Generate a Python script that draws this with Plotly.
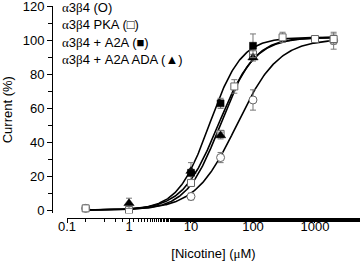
import numpy as np
import plotly.graph_objects as go

# ---- data ----
wt_x = [0.2, 10, 30, 100, 2000]
wt_y = [1, 8, 31, 65, 100]
wt_e = [1, 2, 3, 6, 5]

pka_x = [0.2, 1, 10, 30, 50, 100, 300, 1000, 2000]
pka_y = [1, 0, 16, 45, 73, 92, 102, 101, 101]
pka_e = [1, 1, 2, 2, 4, 3, 3, 2, 3]

a2a_x = [10, 30, 100]
a2a_y = [22, 63, 97]
a2a_e = [2, 3, 7]

ada_x = [1, 10, 30, 100]
ada_y = [4, 23, 44, 90]
ada_e = [3, 5, 2, 2]

# Hill fit parameters: EC50 (uM), Hill slope, Imax (%)
fit_names = ["α3β4", "PKA", "A2A", "ADA"]
fit_ec50 = [55, 30, 20, 28]
fit_nh = [1.3, 1.6, 1.7, 1.5]
fit_imax = [101, 102, 102, 102]

x_ticks = [0.1, 1, 10, 100, 1000]
x_ticklabels = ["0.1", "1", "10", "100", "1000"]
y_ticks = [0, 20, 40, 60, 80, 100, 120]

GR = "<span style='font-family:Liberation Serif'>%s</span>"
legend_lines = [
    GR % "α" + "3" + GR % "β" + "4 (O)",
    GR % "α" + "3" + GR % "β" + "4 PKA (□)",
    GR % "α" + "3" + GR % "β" + "4 + A2A (■)",
    GR % "α" + "3" + GR % "β" + "4 + A2A ADA (▲)",
]

fig = go.Figure()

xs = np.logspace(np.log10(0.2), np.log10(2000), 300)
for ec, nh, im in zip(fit_ec50, fit_nh, fit_imax):
    ys = im * xs ** nh / (xs ** nh + ec ** nh)
    fig.add_trace(go.Scatter(x=xs, y=ys, mode="lines",
                             line=dict(color="black", width=1.6),
                             hoverinfo="skip"))

err_style = dict(type="data", thickness=1, width=3, color="#777")

fig.add_trace(go.Scatter(x=wt_x, y=wt_y, mode="markers",
                         error_y=dict(array=wt_e, **err_style),
                         marker=dict(symbol="circle", size=8, color="white",
                                     line=dict(color="#666", width=1))))
fig.add_trace(go.Scatter(x=pka_x, y=pka_y, mode="markers",
                         error_y=dict(array=pka_e, **err_style),
                         marker=dict(symbol="square", size=7, color="white",
                                     line=dict(color="#666", width=1))))
fig.add_trace(go.Scatter(x=ada_x, y=ada_y, mode="markers",
                         error_y=dict(array=ada_e, **err_style),
                         marker=dict(symbol="triangle-up", size=9, color="black",
                                     line=dict(color="black", width=0.5))))
fig.add_trace(go.Scatter(x=a2a_x, y=a2a_y, mode="markers",
                         error_y=dict(array=a2a_e, **err_style),
                         marker=dict(symbol="square", size=7, color="black",
                                     line=dict(color="black", width=0.5))))

W, H = 360, 262
ml, mr, mt, mb = 52, 0, 6, 44
pw, ph = W - ml - mr, H - mt - mb

for i, t in enumerate(legend_lines):
    px, py = 60, 7 + 17.6 * i
    fig.add_annotation(x=(px - ml) / pw, y=1 - (py - mt) / ph,
                       xref="paper", yref="paper",
                       text=t, showarrow=False, xanchor="left", yanchor="middle",
                       font=dict(size=13, color="black"))

fig.update_layout(
    width=W, height=H,
    margin=dict(l=ml, r=mr, t=mt, b=mb, autoexpand=False),
    paper_bgcolor="white", plot_bgcolor="white",
    showlegend=False,
    font=dict(family="Liberation Sans, Arial, sans-serif", size=13, color="black"),
    xaxis=dict(type="log", range=[-1, 3.726], domain=[15 / pw, 1],
               anchor="free", position=0, automargin=False,
               tickvals=x_ticks, ticktext=x_ticklabels,
               ticks="outside", ticklen=4, tickwidth=1, tickcolor="black",
               ticklabelstandoff=-8, ticklabeloverflow="allow",
               showline=True, linecolor="black", linewidth=1,
               showgrid=False, zeroline=False,
               minor=dict(ticks="outside", ticklen=3, tickwidth=1, tickcolor="black",
                          showgrid=False),
               title=dict(text="[Nicotine] (" + GR % "μ" + "M)",
                          standoff=16, font=dict(size=13))),
    yaxis=dict(range=[-2, 120.5], domain=[0.0215, 1],
               anchor="free", position=0, automargin=False,
               tickvals=y_ticks, ticklabeloverflow="allow",
               ticks="outside", ticklen=5, tickwidth=1, tickcolor="black",
               showline=True, linecolor="black", linewidth=1,
               showgrid=False, zeroline=False,
               minor=dict(dtick=10, ticks="outside", ticklen=4, tickwidth=1,
                          tickcolor="black", showgrid=False),
               title=dict(text="Current (%)", standoff=8, font=dict(size=13))),
)

fig.write_html("out.html", config={"displayModeBar": False},
               post_script="document.body.style.margin='0';document.body.style.overflow='hidden';")
